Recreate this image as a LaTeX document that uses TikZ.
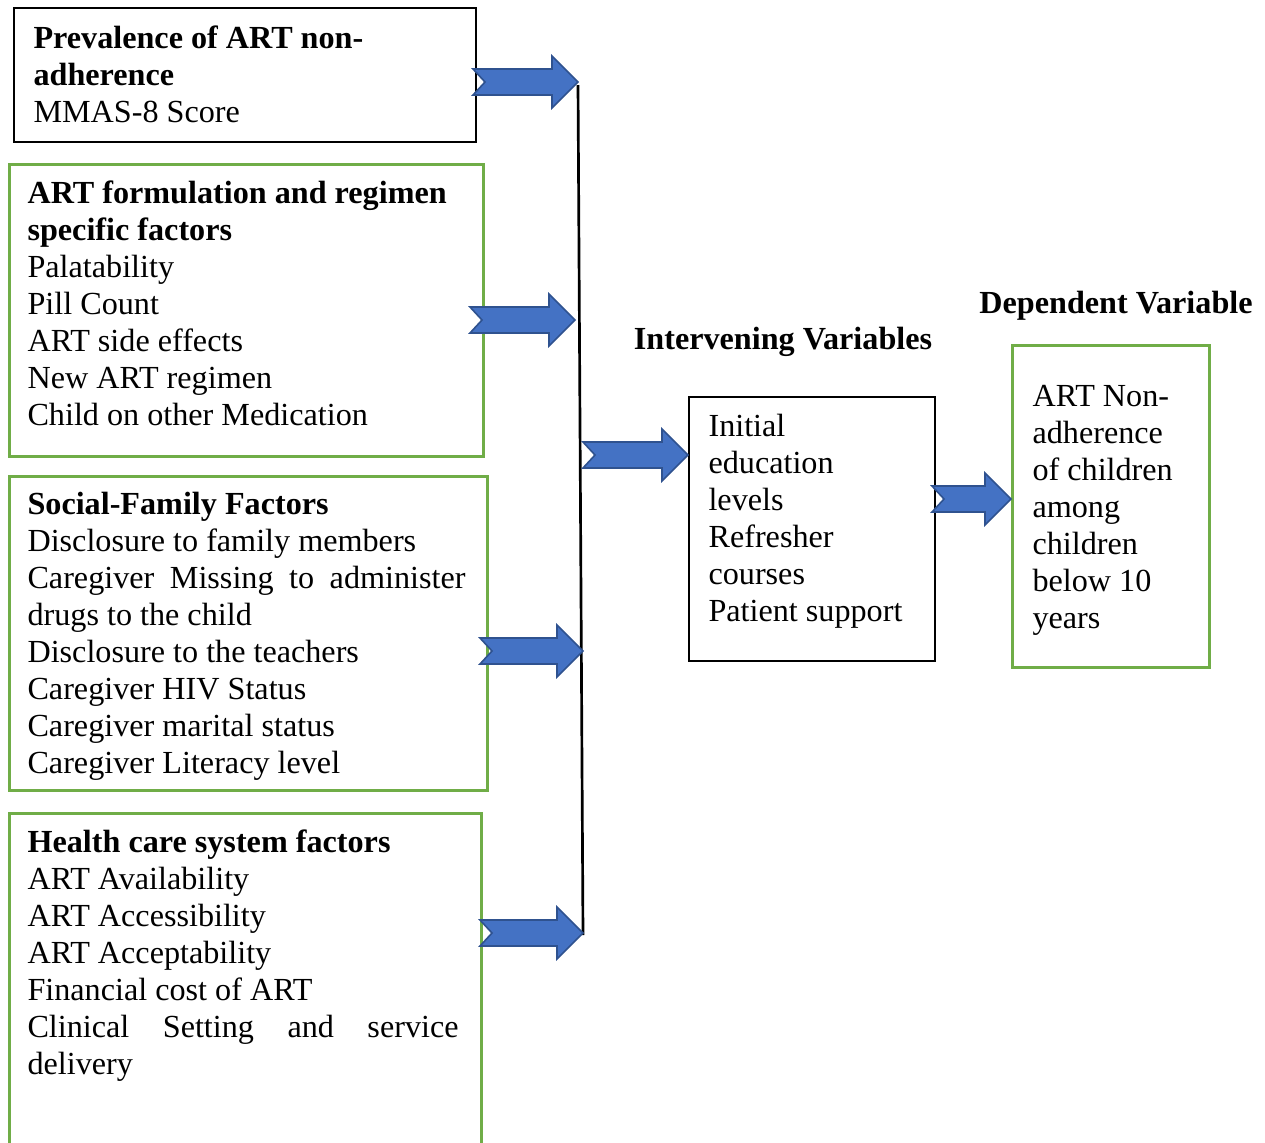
\documentclass[tikz,border=0pt]{standalone}
\usepackage{fontspec}
\setmainfont{Liberation Serif}
\usetikzlibrary{positioning}
\definecolor{boxgreen}{RGB}{112,173,71}
\definecolor{arrowblue}{RGB}{68,114,196}
\definecolor{arrowedge}{RGB}{47,82,143}
\newlength\pu
\setlength\pu{0.373pt}

\begin{document}
\begin{tikzpicture}[x=0.373pt, y=-0.373pt,
  every node/.style={font=\fontsize{12}{13.8}\selectfont},
  blackbox/.style={draw=black, line width=0.8pt, anchor=north west, inner sep=0pt},
  greenbox/.style={draw=boxgreen, line width=1pt, anchor=north west, inner sep=0pt},
  boxtext/.style={anchor=north west, align=flush left, inner sep=0pt},
  blockarrow/.style={fill=arrowblue, draw=arrowedge, line width=0.6pt, line join=miter},
  heading/.style={font=\fontsize{12}{13.8}\selectfont\bfseries},
  pics/notched/.style={code={
    \draw[blockarrow] (-#1,-13) -- (-26,-13) -- (-26,-26) -- (0,0) -- (-26,26)
      -- (-26,13) -- (-#1,13) -- (-#1+12,0) -- cycle;
  }}
]
\useasboundingbox (0,0) rectangle (1265,1142);
\clip (0,0) rectangle (1265,1142);

% Independent variable boxes
\node[blackbox, minimum width=462\pu, minimum height=134\pu] (prev) at (13,7) {};
\node[boxtext, below right=18\pu and 20\pu of prev.north west] (prevtext)
  {\textbf{Prevalence of ART non-}\\\textbf{adherence}\\MMAS-8 Score};

\node[greenbox, minimum width=474\pu, minimum height=292\pu] (formul) at (8,163) {};
\node[boxtext, below right=17\pu and 19\pu of formul.north west] (formultext)
  {\textbf{ART formulation and regimen}\\\textbf{specific factors}\\Palatability\\Pill Count\\
   ART side effects\\New ART regimen\\Child on other Medication};

\node[greenbox, minimum width=478\pu, minimum height=314\pu] (social) at (8,475) {};
\node[boxtext, below right=17\pu and 19\pu of social.north west] (socialtext)
  {\textbf{Social-Family Factors}\\Disclosure to family members\\
   \makebox[438\pu][s]{Caregiver Missing to administer}\\drugs to the child\\
   Disclosure to the teachers\\Caregiver HIV Status\\Caregiver marital status\\
   Caregiver Literacy level};

\node[greenbox, minimum width=472\pu, minimum height=360\pu] (health) at (8,812) {};
\node[boxtext, below right=17\pu and 19\pu of health.north west] (healthtext)
  {\textbf{Health care system factors}\\ART Availability\\ART Accessibility\\ART Acceptability\\
   Financial cost of ART\\\makebox[431\pu][s]{Clinical Setting and service}\\delivery};

% Intervening and dependent variables
\node[heading] (intertitle) at (783,342) {Intervening Variables};
\node[blackbox, minimum width=246\pu, minimum height=264\pu] (inter) at (688,396) {};
\node[boxtext, below right=18\pu and 20\pu of inter.north west] (intertext)
  {Initial\\education\\levels\\Refresher\\courses\\Patient support};

\node[heading] (deptitle) at (1116,306) {Dependent Variable};
\node[greenbox, minimum width=197\pu, minimum height=322\pu] (dep) at (1011,344) {};
\node[boxtext, below right=41\pu and 21\pu of dep.north west] (deptext)
  {ART Non-\\adherence\\of children\\among\\children\\below 10\\years};

% Collecting line
\coordinate (ltop) at (578,85);
\coordinate (lbot) at (583,935);
\draw[line width=1pt] (ltop) -- (lbot);

% Block arrows
\pic at (578,82) {notched=105};
\pic at (575,320) {notched=105};
\pic at (583,651) {notched=103};
\pic at (583,933) {notched=103};
\pic at (inter.west |- 0,455) {notched=105};
\pic at (dep.west |- 0,499) {notched=79};
\end{tikzpicture}
\end{document}
